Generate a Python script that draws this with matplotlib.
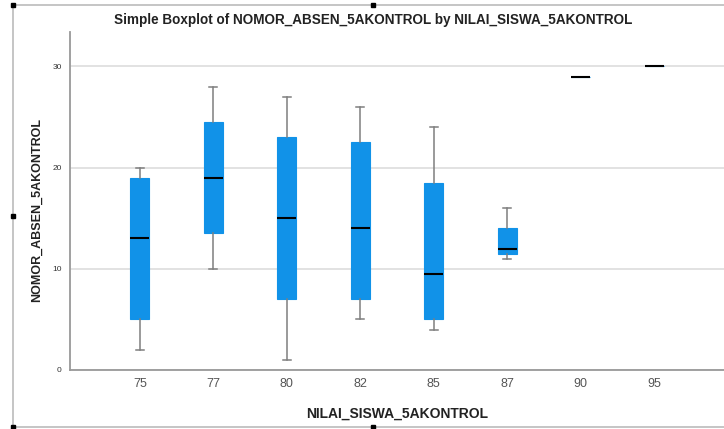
import matplotlib
matplotlib.use('Agg')
import matplotlib.pyplot as plt
from matplotlib.lines import Line2D

# values
groups = ['75', '77', '80', '82', '85', '87', '90', '95']
whisker_low = [2, 10, 1, 5, 4, 11, 29, 30]
q1 = [5, 13.5, 7, 7, 5, 11.5, 29, 30]
median = [13, 19, 15, 14, 9.5, 12, 29, 30]
q3 = [19, 24.5, 23, 22.5, 18.5, 14, 29, 30]
whisker_high = [20, 28, 27, 26, 24, 16, 29, 30]

y_ticks = [0, 10, 20, 30]

box_color = '#1192e8'
font = 'Liberation Sans'

fig = plt.figure(figsize=(7.24, 4.29), dpi=100)
ax = fig.add_axes([70/724, 59/429, 654/724, 338/429])

stats = []
for i, g in enumerate(groups):
    stats.append(dict(label=g, whislo=whisker_low[i], q1=q1[i], med=median[i],
                      q3=q3[i], whishi=whisker_high[i], fliers=[]))

pos = list(range(len(groups)))
ax.bxp(stats, positions=pos, widths=0.26, patch_artist=True, showfliers=False,
       boxprops=dict(facecolor=box_color, edgecolor=box_color, linewidth=0.8),
       medianprops=dict(color='black', linewidth=1.5),
       whiskerprops=dict(color='#7f7f7f', linewidth=1.1),
       capprops=dict(color='#7f7f7f', linewidth=1.1),
       capwidths=0.11, zorder=3)

ax.set_xlim(-0.952, 7.95)
ax.set_ylim(0, 33.4)
ax.set_yticks(y_ticks)
ax.set_yticklabels([str(t) for t in y_ticks], fontsize=6, color='#333333', family=font)
ax.set_xticks(pos)
ax.set_xticklabels(groups, fontsize=9, color='#555555', family=font)
ax.tick_params(length=0)
ax.tick_params(axis='y', pad=6)
ax.tick_params(axis='x', pad=6)
ax.grid(axis='y', color='#dddddd', linewidth=1.2, zorder=0)
ax.set_axisbelow(True)
for s in ['top', 'right']:
    ax.spines[s].set_visible(False)
for s in ['left', 'bottom']:
    ax.spines[s].set_color('#999999')
    ax.spines[s].set_linewidth(1.3)

ax.set_xlabel('NILAI_SISWA_5AKONTROL', fontsize=10, family=font, fontweight='bold',
              color='#222222', labelpad=12)
ax.set_ylabel('NOMOR_ABSEN_5AKONTROL', fontsize=9, family=font, fontweight='bold',
              color='#222222', va='center')
ax.yaxis.set_label_coords(-33/654, 160/338)
fig.text(373/724, 1 - 20/429, 'Simple Boxplot of NOMOR_ABSEN_5AKONTROL by NILAI_SISWA_5AKONTROL',
         ha='center', va='center', fontsize=9.75, fontweight='bold', family=font, color='#222222')

# chart frame with selection handles
W, H = 724, 429
frame = [((13, 5), (724, 5)), ((13, 5), (13, 427)), ((13, 427), (724, 427))]
for (x0, y0), (x1, y1) in frame:
    fig.add_artist(Line2D([x0/W, x1/W], [1 - y0/H, 1 - y1/H], color='#bbbbbb', linewidth=1.2))
handles_x = [13, 373, 13, 13, 373]
handles_y = [5, 5, 216, 427, 427]
for hx, hy in zip(handles_x, handles_y):
    fig.add_artist(Line2D([hx/W], [1 - hy/H], marker='s', markersize=3.5, color='black', linestyle=''))

fig.savefig('out.png', dpi=100)
